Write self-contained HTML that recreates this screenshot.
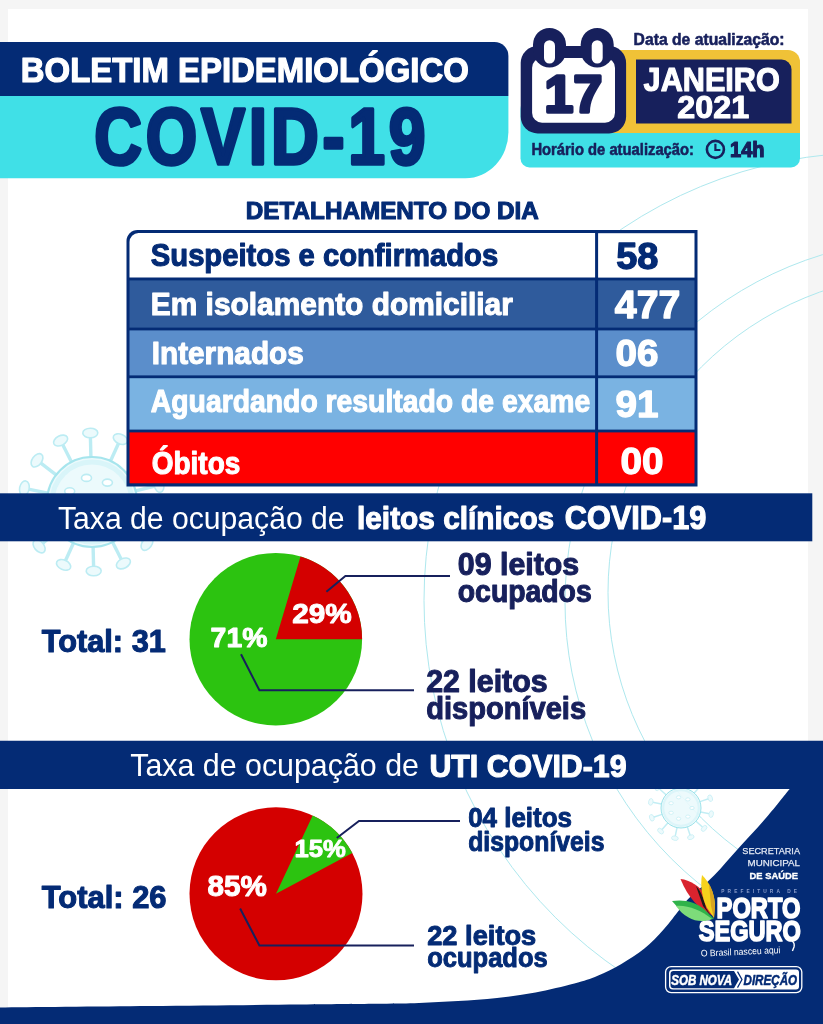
<!DOCTYPE html>
<html lang="pt-BR">
<head>
<meta charset="utf-8">
<title>Boletim Epidemiológico COVID-19</title>
<style>
html,body{margin:0;padding:0;background:#f5f5f5;}
body{width:823px;height:1024px;overflow:hidden;}
svg{display:block;}
svg text{font-family:"Liberation Sans",sans-serif;font-weight:bold;}
</style>
</head>
<body>
<svg width="823" height="1024" viewBox="0 0 823 1024">
<rect x="0" y="0" width="823" height="1024" fill="#f5f5f5"/>
<rect x="8" y="9" width="800" height="1015" fill="#ffffff"/>
<g fill="none" stroke="#aee8ee" stroke-width="1">
<circle cx="872" cy="600.5" r="448"/>
<circle cx="928" cy="602" r="363"/>
<circle cx="927" cy="592.5" r="319"/>
</g>
<g fill="#ecfafc" stroke="#bcecf3" stroke-width="1.6" opacity="1">
<line x1="136.1" y1="510.9" x2="155.7" y2="514.9" stroke-width="3.4"/>
<ellipse cx="159.6" cy="515.7" rx="7.5" ry="4.8" transform="rotate(101 159.6 515.7)"/>
<line x1="127.9" y1="529.2" x2="143.8" y2="541.3" stroke-width="3.4"/>
<ellipse cx="147.0" cy="543.7" rx="7.5" ry="4.8" transform="rotate(127 147.0 543.7)"/>
<line x1="112.5" y1="542.1" x2="121.6" y2="559.9" stroke-width="3.4"/>
<ellipse cx="123.4" cy="563.4" rx="7.5" ry="4.8" transform="rotate(153 123.4 563.4)"/>
<line x1="93.1" y1="547.0" x2="93.6" y2="567.0" stroke-width="3.4"/>
<ellipse cx="93.7" cy="571.0" rx="7.5" ry="4.8" transform="rotate(179 93.7 571.0)"/>
<line x1="73.5" y1="543.0" x2="65.2" y2="561.2" stroke-width="3.4"/>
<ellipse cx="63.6" cy="564.9" rx="7.5" ry="4.8" transform="rotate(204 63.6 564.9)"/>
<line x1="57.5" y1="530.9" x2="42.2" y2="543.8" stroke-width="3.4"/>
<ellipse cx="39.1" cy="546.3" rx="7.5" ry="4.8" transform="rotate(230 39.1 546.3)"/>
<line x1="48.4" y1="513.1" x2="29.0" y2="518.0" stroke-width="3.4"/>
<ellipse cx="25.1" cy="519.0" rx="7.5" ry="4.8" transform="rotate(256 25.1 519.0)"/>
<line x1="47.9" y1="493.1" x2="28.3" y2="489.1" stroke-width="3.4"/>
<ellipse cx="24.4" cy="488.3" rx="7.5" ry="4.8" transform="rotate(281 24.4 488.3)"/>
<line x1="56.1" y1="474.8" x2="40.2" y2="462.7" stroke-width="3.4"/>
<ellipse cx="37.0" cy="460.3" rx="7.5" ry="4.8" transform="rotate(307 37.0 460.3)"/>
<line x1="71.5" y1="461.9" x2="62.4" y2="444.1" stroke-width="3.4"/>
<ellipse cx="60.6" cy="440.6" rx="7.5" ry="4.8" transform="rotate(333 60.6 440.6)"/>
<line x1="90.9" y1="457.0" x2="90.4" y2="437.0" stroke-width="3.4"/>
<ellipse cx="90.3" cy="433.0" rx="7.5" ry="4.8" transform="rotate(359 90.3 433.0)"/>
<line x1="110.5" y1="461.0" x2="118.8" y2="442.8" stroke-width="3.4"/>
<ellipse cx="120.4" cy="439.1" rx="7.5" ry="4.8" transform="rotate(384 120.4 439.1)"/>
<line x1="126.5" y1="473.1" x2="141.8" y2="460.2" stroke-width="3.4"/>
<ellipse cx="144.9" cy="457.7" rx="7.5" ry="4.8" transform="rotate(410 144.9 457.7)"/>
<line x1="135.6" y1="490.9" x2="155.0" y2="486.0" stroke-width="3.4"/>
<ellipse cx="158.9" cy="485.0" rx="7.5" ry="4.8" transform="rotate(436 158.9 485.0)"/>
<circle cx="92" cy="502" r="45" stroke="#a6e5ed" stroke-width="2.0"/>
<circle cx="92" cy="502" r="40.0" fill="none" stroke="#d9f5f9" stroke-width="5.0"/>
<ellipse cx="116.8" cy="502.0" rx="5.0" ry="3.5" fill="#ffffff"/>
<ellipse cx="107.4" cy="521.4" rx="5.0" ry="3.5" fill="#ffffff"/>
<ellipse cx="86.5" cy="526.1" rx="5.0" ry="3.5" fill="#ffffff"/>
<ellipse cx="69.7" cy="512.7" rx="5.0" ry="3.5" fill="#ffffff"/>
<ellipse cx="69.7" cy="491.3" rx="5.0" ry="3.5" fill="#ffffff"/>
<ellipse cx="86.5" cy="477.9" rx="5.0" ry="3.5" fill="#ffffff"/>
<ellipse cx="107.4" cy="482.6" rx="5.0" ry="3.5" fill="#ffffff"/>
</g>
<g fill="#ecfafc" stroke="#bcecf3" stroke-width="0.7" opacity="0.9">
<line x1="700.6" y1="812.0" x2="709.4" y2="813.8" stroke-width="1.5"/>
<ellipse cx="711.2" cy="814.1" rx="3.4" ry="2.2" transform="rotate(101 711.2 814.1)"/>
<line x1="696.0" y1="821.2" x2="702.7" y2="827.2" stroke-width="1.5"/>
<ellipse cx="704.1" cy="828.4" rx="3.4" ry="2.2" transform="rotate(131 704.1 828.4)"/>
<line x1="687.4" y1="827.0" x2="690.2" y2="835.5" stroke-width="1.5"/>
<ellipse cx="690.8" cy="837.2" rx="3.4" ry="2.2" transform="rotate(161 690.8 837.2)"/>
<line x1="677.0" y1="827.6" x2="675.2" y2="836.4" stroke-width="1.5"/>
<ellipse cx="674.9" cy="838.2" rx="3.4" ry="2.2" transform="rotate(191 674.9 838.2)"/>
<line x1="667.8" y1="823.0" x2="661.8" y2="829.7" stroke-width="1.5"/>
<ellipse cx="660.6" cy="831.1" rx="3.4" ry="2.2" transform="rotate(221 660.6 831.1)"/>
<line x1="662.0" y1="814.4" x2="653.5" y2="817.2" stroke-width="1.5"/>
<ellipse cx="651.8" cy="817.8" rx="3.4" ry="2.2" transform="rotate(251 651.8 817.8)"/>
<line x1="661.4" y1="804.0" x2="652.6" y2="802.2" stroke-width="1.5"/>
<ellipse cx="650.8" cy="801.9" rx="3.4" ry="2.2" transform="rotate(281 650.8 801.9)"/>
<line x1="666.0" y1="794.8" x2="659.3" y2="788.8" stroke-width="1.5"/>
<ellipse cx="657.9" cy="787.6" rx="3.4" ry="2.2" transform="rotate(311 657.9 787.6)"/>
<line x1="674.6" y1="789.0" x2="671.8" y2="780.5" stroke-width="1.5"/>
<ellipse cx="671.2" cy="778.8" rx="3.4" ry="2.2" transform="rotate(341 671.2 778.8)"/>
<line x1="685.0" y1="788.4" x2="686.8" y2="779.6" stroke-width="1.5"/>
<ellipse cx="687.1" cy="777.8" rx="3.4" ry="2.2" transform="rotate(371 687.1 777.8)"/>
<line x1="694.2" y1="793.0" x2="700.2" y2="786.3" stroke-width="1.5"/>
<ellipse cx="701.4" cy="784.9" rx="3.4" ry="2.2" transform="rotate(401 701.4 784.9)"/>
<line x1="700.0" y1="801.6" x2="708.5" y2="798.8" stroke-width="1.5"/>
<ellipse cx="710.2" cy="798.2" rx="3.4" ry="2.2" transform="rotate(431 710.2 798.2)"/>
<circle cx="681" cy="808" r="20" stroke="#86dbe4" stroke-width="0.9"/>
<circle cx="681" cy="808" r="17.8" fill="none" stroke="#d9f5f9" stroke-width="2.2"/>
<ellipse cx="692.0" cy="808.0" rx="2.2" ry="1.6" fill="#ffffff"/>
<ellipse cx="687.9" cy="816.6" rx="2.2" ry="1.6" fill="#ffffff"/>
<ellipse cx="678.6" cy="818.7" rx="2.2" ry="1.6" fill="#ffffff"/>
<ellipse cx="671.1" cy="812.8" rx="2.2" ry="1.6" fill="#ffffff"/>
<ellipse cx="671.1" cy="803.2" rx="2.2" ry="1.6" fill="#ffffff"/>
<ellipse cx="678.6" cy="797.3" rx="2.2" ry="1.6" fill="#ffffff"/>
<ellipse cx="687.9" cy="799.4" rx="2.2" ry="1.6" fill="#ffffff"/>
</g>
<path d="M0 42 H494.4 a14 14 0 0 1 14 14 V96 H0 Z" fill="#042b75"/>
<path d="M0 96 H508.4 V132.2 a43 46 0 0 1 -43 46 H0 Z" fill="#40e0e7"/>
<text x="20.8" y="81.6" font-size="35" fill="#ffffff" stroke="#ffffff" stroke-width="1.23" stroke-linejoin="round" textLength="448" lengthAdjust="spacingAndGlyphs">BOLETIM EPIDEMIOLÓGICO</text>
<text x="94.2" y="164.2" font-size="78.8" fill="#042b75" stroke="#042b75" stroke-width="3.60" stroke-linejoin="round" textLength="335.2" lengthAdjust="spacingAndGlyphs" letter-spacing="4.5">COVID-19</text>
<rect x="520.5" y="100" width="279.5" height="67.5" rx="9" fill="#40e0e7"/>
<path d="M610 50 H788 a12 12 0 0 1 12 12 V133 H610 Z" fill="#f0c237"/>
<path d="M636 59.5 H781.5 a10 10 0 0 1 10 10 V123.5 H636 Z" fill="#17205c"/>
<text x="633.6" y="45.2" font-size="17" fill="#17205c" stroke="#17205c" stroke-width="0.60" stroke-linejoin="round" textLength="151" lengthAdjust="spacingAndGlyphs">Data de atualização:</text>
<text x="643.6" y="90.5" font-size="33.8" fill="#ffffff" stroke="#ffffff" stroke-width="1.18" stroke-linejoin="round" textLength="136.2" lengthAdjust="spacingAndGlyphs">JANEIRO</text>
<text x="677.3" y="117.6" font-size="32" fill="#ffffff" stroke="#ffffff" stroke-width="1.12" stroke-linejoin="round" textLength="71.8" lengthAdjust="spacingAndGlyphs">2021</text>
<rect x="520.7" y="46" width="105.4" height="87.4" rx="17" fill="#17205c"/>
<rect x="532.1" y="57.9" width="82.9" height="64.8" rx="10" fill="#ffffff"/>
<rect x="533.0" y="28" width="33" height="39.4" rx="16.5" fill="#17205c"/>
<rect x="544.0" y="40.2" width="11" height="23.4" rx="5.5" fill="#ffffff"/>
<rect x="580.7" y="28" width="33" height="39.4" rx="16.5" fill="#17205c"/>
<rect x="591.7" y="40.2" width="11" height="23.4" rx="5.5" fill="#ffffff"/>
<text x="544.6" y="112.3" font-size="52.5" fill="#17205c" stroke="#17205c" stroke-width="3.40" stroke-linejoin="round" textLength="57.6" lengthAdjust="spacingAndGlyphs">17</text>
<text x="531.4" y="154.8" font-size="16.8" fill="#17205c" stroke="#17205c" stroke-width="0.59" stroke-linejoin="round" textLength="162.6" lengthAdjust="spacingAndGlyphs">Horário de atualização:</text>
<circle cx="715.4" cy="149.4" r="8.5" fill="none" stroke="#17205c" stroke-width="2.6"/>
<path d="M715.4 143.8 V150 H720.4" fill="none" stroke="#17205c" stroke-width="2.2"/>
<text x="730" y="157.4" font-size="21.6" fill="#17205c" stroke="#17205c" stroke-width="1.20" stroke-linejoin="round" textLength="34.6" lengthAdjust="spacingAndGlyphs">14h</text>
<text x="245.8" y="219.3" font-size="24.8" fill="#042b75" stroke="#042b75" stroke-width="1.10" stroke-linejoin="round" textLength="293" lengthAdjust="spacingAndGlyphs">DETALHAMENTO DO DIA</text>
<path d="M126.5 241 a11 11 0 0 1 11 -11 H697.5 V486.5 H126.5 Z" fill="#042b75"/>
<path d="M129.5 242 a9 9 0 0 1 9 -9 H595.1 V277.6 H129.5 Z" fill="#ffffff"/>
<rect x="598.1" y="233.2" width="96.39999999999998" height="44.4" fill="#ffffff"/>
<rect x="129.5" y="280.4" width="465.6" height="47.2" fill="#2f5b9c"/>
<rect x="598.1" y="280.4" width="96.39999999999998" height="47.2" fill="#2f5b9c"/>
<rect x="129.5" y="330.4" width="465.6" height="45.0" fill="#5b8ecb"/>
<rect x="598.1" y="330.4" width="96.39999999999998" height="45.0" fill="#5b8ecb"/>
<rect x="129.5" y="378.2" width="465.6" height="51.4" fill="#7ab3e2"/>
<rect x="598.1" y="378.2" width="96.39999999999998" height="51.4" fill="#7ab3e2"/>
<rect x="129.5" y="432.4" width="465.6" height="50.9" fill="#ff0000"/>
<rect x="598.1" y="432.4" width="96.39999999999998" height="50.9" fill="#ff0000"/>
<text x="150.8" y="266.4" font-size="31.5" fill="#042b75" stroke="#042b75" stroke-width="1.10" stroke-linejoin="round" textLength="347.4" lengthAdjust="spacingAndGlyphs">Suspeitos e confirmados</text>
<text x="150.8" y="315.2" font-size="31.5" fill="#ffffff" stroke="#ffffff" stroke-width="1.10" stroke-linejoin="round" textLength="362" lengthAdjust="spacingAndGlyphs">Em isolamento domiciliar</text>
<text x="151.7" y="364" font-size="31.5" fill="#ffffff" stroke="#ffffff" stroke-width="1.10" stroke-linejoin="round" textLength="152.1" lengthAdjust="spacingAndGlyphs">Internados</text>
<text x="150.8" y="411.6" font-size="31.5" fill="#ffffff" stroke="#ffffff" stroke-width="1.10" stroke-linejoin="round" textLength="439.4" lengthAdjust="spacingAndGlyphs">Aguardando resultado de exame</text>
<text x="151.7" y="474.2" font-size="31.8" fill="#ffffff" stroke="#ffffff" stroke-width="1.11" stroke-linejoin="round" textLength="88.6" lengthAdjust="spacingAndGlyphs">Óbitos</text>
<text x="616.2" y="268.7" font-size="37.5" fill="#042b75" stroke="#042b75" stroke-width="1.31" stroke-linejoin="round" textLength="42.2" lengthAdjust="spacingAndGlyphs">58</text>
<text x="614.8" y="318.3" font-size="39" fill="#ffffff" stroke="#ffffff" stroke-width="1.37" stroke-linejoin="round" textLength="65.6" lengthAdjust="spacingAndGlyphs">477</text>
<text x="615.5" y="365.5" font-size="37.5" fill="#ffffff" stroke="#ffffff" stroke-width="1.31" stroke-linejoin="round" textLength="43" lengthAdjust="spacingAndGlyphs">06</text>
<text x="615.5" y="416.5" font-size="37.5" fill="#ffffff" stroke="#ffffff" stroke-width="1.31" stroke-linejoin="round" textLength="43" lengthAdjust="spacingAndGlyphs">91</text>
<text x="620.5" y="474" font-size="37.5" fill="#ffffff" stroke="#ffffff" stroke-width="1.31" stroke-linejoin="round" textLength="43" lengthAdjust="spacingAndGlyphs">00</text>
<rect x="0" y="493.3" width="812.3" height="48" fill="#042b75"/>
<text x="58.0" y="529.3" font-size="30.6" fill="#ffffff" style="font-weight:normal" textLength="286.6" lengthAdjust="spacingAndGlyphs">Taxa de ocupação de</text>
<text x="357.0" y="529.2" font-size="31.8" fill="#ffffff" stroke="#ffffff" stroke-width="1.11" stroke-linejoin="round" textLength="197.2" lengthAdjust="spacingAndGlyphs">leitos clínicos</text>
<text x="564.8" y="529.2" font-size="32.4" fill="#ffffff" stroke="#ffffff" stroke-width="1.13" stroke-linejoin="round" textLength="141.6" lengthAdjust="spacingAndGlyphs">COVID-19</text>
<circle cx="275.8" cy="639.2" r="86.3" fill="#2cc310"/>
<path d="M275.8 639.2 L362.1 639.2 A86.3 86.3 0 0 0 300.5 556.5 Z" fill="#d40000"/>
<text x="292.2" y="623" font-size="27.4" fill="#ffffff" stroke="#ffffff" stroke-width="0.96" stroke-linejoin="round" textLength="59.6" lengthAdjust="spacingAndGlyphs">29%</text>
<text x="210.6" y="646.8" font-size="28" fill="#ffffff" stroke="#ffffff" stroke-width="0.98" stroke-linejoin="round" textLength="56.8" lengthAdjust="spacingAndGlyphs">71%</text>
<path d="M326.4 591.7 L345.4 576 H450" fill="none" stroke="#17205c" stroke-width="2"/>
<path d="M241 654.3 L259.4 690.3 H414" fill="none" stroke="#17205c" stroke-width="2"/>
<text x="41.8" y="651.8" font-size="31" fill="#042b75" stroke="#042b75" stroke-width="1.09" stroke-linejoin="round" textLength="124" lengthAdjust="spacingAndGlyphs">Total: 31</text>
<text x="457.8" y="574.6" font-size="31.5" fill="#17205c" stroke="#17205c" stroke-width="1.10" stroke-linejoin="round" textLength="121.4" lengthAdjust="spacingAndGlyphs">09 leitos</text>
<text x="457.8" y="602.3" font-size="31.5" fill="#17205c" stroke="#17205c" stroke-width="1.10" stroke-linejoin="round" textLength="133.9" lengthAdjust="spacingAndGlyphs">ocupados</text>
<text x="426.2" y="691.8" font-size="31.5" fill="#17205c" stroke="#17205c" stroke-width="1.10" stroke-linejoin="round" textLength="121.4" lengthAdjust="spacingAndGlyphs">22 leitos</text>
<text x="426.2" y="718.8" font-size="31.5" fill="#17205c" stroke="#17205c" stroke-width="1.10" stroke-linejoin="round" textLength="159.9" lengthAdjust="spacingAndGlyphs">disponíveis</text>
<path d="M0 740.7 H823 V1024 H0 L0 1007.5 C25.0 1007.2 100.0 1006.5 150 1006 C200.0 1005.5 261.7 1004.9 300 1004.5 C338.3 1004.1 360.2 1004.0 380 1003.8 C399.8 1003.5 406.0 1003.5 419 1003 C432.0 1002.5 445.0 1001.8 458 1001 C471.0 1000.2 484.1 999.4 497 998 C509.9 996.6 522.6 994.9 535.5 992.5 C548.4 990.1 564.0 986.4 574.4 983.6 C584.8 980.8 589.9 979.0 597.7 975.8 C605.5 972.6 613.2 968.7 621 964.2 C628.8 959.7 637.3 954.4 644.4 948.6 C651.5 942.8 658.0 935.7 663.8 929.2 C669.6 922.7 675.5 914.6 679.4 909.7 C683.3 904.8 681.4 905.8 687.2 900 C693.1 894.2 706.1 883.5 714.5 875 C722.9 866.5 729.2 858.5 737.6 849.3 C746.0 840.1 755.9 829.7 764.6 819.6 C773.3 809.5 785.5 794.0 789.7 788.9 H0 Z" fill="#042b75"/>
<text x="130.3" y="776.3" font-size="31.2" fill="#ffffff" style="font-weight:normal" textLength="288.6" lengthAdjust="spacingAndGlyphs">Taxa de ocupação de</text>
<text x="429.4" y="777.2" font-size="31.6" fill="#ffffff" stroke="#ffffff" stroke-width="1.11" stroke-linejoin="round" textLength="197.2" lengthAdjust="spacingAndGlyphs">UTI COVID-19</text>
<circle cx="276" cy="893.8" r="86.5" fill="#d40000"/>
<path d="M276 893.8 L352.3 853.1 A86.5 86.5 0 0 0 312.7 815.5 Z" fill="#2cc310"/>
<text x="294.4" y="857.4" font-size="24.6" fill="#ffffff" stroke="#ffffff" stroke-width="0.86" stroke-linejoin="round" textLength="51.4" lengthAdjust="spacingAndGlyphs">15%</text>
<text x="207.4" y="896.3" font-size="29.3" fill="#ffffff" stroke="#ffffff" stroke-width="1.03" stroke-linejoin="round" textLength="59.4" lengthAdjust="spacingAndGlyphs">85%</text>
<path d="M336.8 838 L359 821 H460" fill="none" stroke="#17205c" stroke-width="2"/>
<path d="M240.1 908.5 L259.4 945.5 H414" fill="none" stroke="#17205c" stroke-width="2"/>
<text x="41.8" y="908" font-size="31" fill="#042b75" stroke="#042b75" stroke-width="1.09" stroke-linejoin="round" textLength="124.7" lengthAdjust="spacingAndGlyphs">Total: 26</text>
<text x="468.2" y="826.9" font-size="27.5" fill="#042b75" stroke="#042b75" stroke-width="0.96" stroke-linejoin="round" textLength="103.8" lengthAdjust="spacingAndGlyphs">04 leitos</text>
<text x="468.2" y="851" font-size="27.5" fill="#042b75" stroke="#042b75" stroke-width="0.96" stroke-linejoin="round" textLength="136.3" lengthAdjust="spacingAndGlyphs">disponíveis</text>
<text x="427.2" y="944.5" font-size="28.3" fill="#042b75" stroke="#042b75" stroke-width="0.99" stroke-linejoin="round" textLength="109.1" lengthAdjust="spacingAndGlyphs">22 leitos</text>
<text x="427.2" y="966.8" font-size="28.3" fill="#042b75" stroke="#042b75" stroke-width="0.99" stroke-linejoin="round" textLength="120.5" lengthAdjust="spacingAndGlyphs">ocupados</text>
<text x="742.3" y="853.6" font-size="9.7" fill="#e4e9f4" style="font-weight:normal" textLength="57.7" lengthAdjust="spacingAndGlyphs" stroke="#e4e9f4" stroke-width="0.25">SECRETARIA</text>
<text x="747.6" y="865.9" font-size="9.7" fill="#e4e9f4" style="font-weight:normal" textLength="52.4" lengthAdjust="spacingAndGlyphs" stroke="#e4e9f4" stroke-width="0.25">MUNICIPAL</text>
<text x="749.5" y="878.5" font-size="9.8" fill="#ffffff" stroke="#ffffff" stroke-width="0.34" stroke-linejoin="round" textLength="48.5" lengthAdjust="spacingAndGlyphs">DE SAÚDE</text>
<text x="721.3" y="893.3" font-size="4.8" fill="#8d9fcc" stroke="#8d9fcc" stroke-width="0.00" stroke-linejoin="round" textLength="75.7" lengthAdjust="spacing">PREFEITURA DE</text>
<text x="716.6" y="917.8" font-size="28.6" fill="#ffffff" stroke="#ffffff" stroke-width="1.70" stroke-linejoin="round" textLength="83.8" lengthAdjust="spacingAndGlyphs">PORTO</text>
<text x="698.7" y="941" font-size="30.4" fill="#ffffff" stroke="#ffffff" stroke-width="1.70" stroke-linejoin="round" textLength="102.2" lengthAdjust="spacingAndGlyphs">SEGURO</text>
<text x="700.9" y="956.6" font-size="9.4" fill="#ffffff" style="font-weight:normal" textLength="79.7" lengthAdjust="spacingAndGlyphs" transform="rotate(-2.5 700.9 956.6)">O Brasil nasceu aqui</text>
<path d="M792 941 q3 2 2 6 l-1.6 4" fill="none" stroke="#ffffff" stroke-width="1.4"/>
<path d="M680.5 879 C 690 880, 700 886, 706 896 L714 916 C 700 910, 688 898, 680.5 879 Z" fill="#d9232e"/>
<path d="M696 886 C 700 890, 704 898, 706 908 L711 916 L703 906 Z" fill="#1a1a1a"/>
<path d="M702 875 C 709 882, 714 892, 715 904 L714 918 L707 908 C 702 898, 700 886, 702 875 Z" fill="#f6d21c"/>
<path d="M709 884 C 713 890, 715 900, 715 908 L714 918 L711 906 Z" fill="#d9a520"/>
<path d="M672 901 C 684 899, 696 902, 704 909 L714 919 C 700 921, 684 916, 672 901 Z" fill="#2fb34a"/>
<path d="M676 906 C 688 905, 700 910, 712 919 C 700 924, 686 920, 676 906 Z" fill="#7ddc7a"/>
<rect x="665.6" y="966.6" width="136.2" height="26" rx="5.5" fill="none" stroke="#ffffff" stroke-width="1.3"/>
<path d="M673 969.6 H796 a3 3 0 0 1 3 3 V986.6 a3 3 0 0 1 -3 3 H673 a4 4 0 0 1 -4 -4 V973.6 a4 4 0 0 1 4 -4 Z" fill="#ffffff"/>
<path d="M673.5 971 H734 L739 979.6 L734 988.2 H673.5 a3 3 0 0 1 -3 -3 V974 a3 3 0 0 1 3 -3 Z" fill="#042b75"/>
<path d="M737.5 971.6 L742 979.6 L737.5 987.6" fill="none" stroke="#042b75" stroke-width="1.2"/>
<text x="671.2" y="984.8" font-size="14" fill="#ffffff" stroke="#ffffff" stroke-width="0.49" stroke-linejoin="round" font-style="italic" textLength="60.8" lengthAdjust="spacingAndGlyphs">SOB NOVA</text>
<text x="743.5" y="984.8" font-size="14" fill="#042b75" stroke="#042b75" stroke-width="0.49" stroke-linejoin="round" font-style="italic" textLength="53.6" lengthAdjust="spacingAndGlyphs">DIREÇÃO</text>
</svg>
</body>
</html>
